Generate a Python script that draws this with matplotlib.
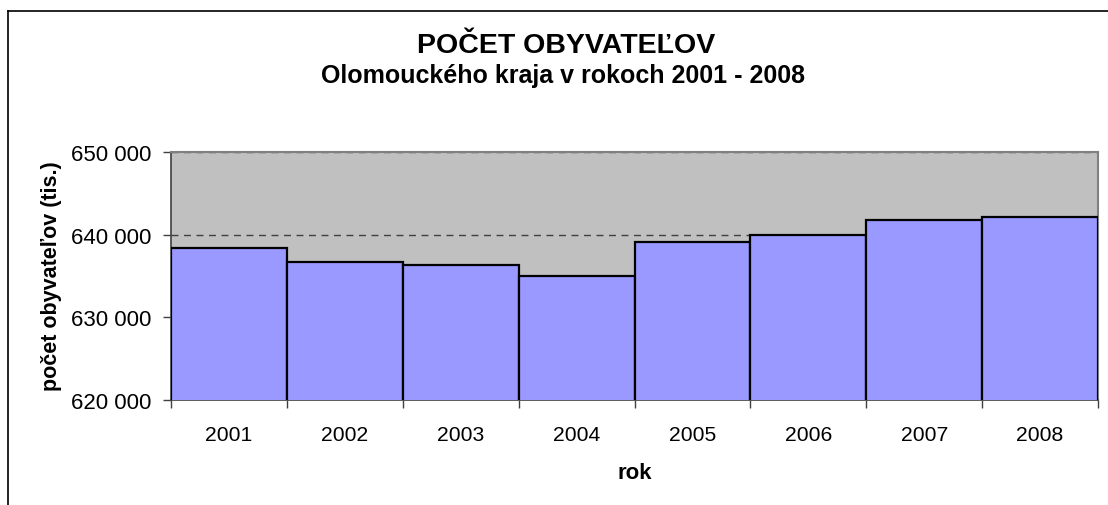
import numpy as np
import matplotlib.pyplot as plt
from matplotlib.lines import Line2D
from matplotlib.ticker import FuncFormatter

years = ['2001', '2002', '2003', '2004', '2005', '2006', '2007', '2008']
population = [638400, 636700, 636300, 635000, 639150, 639930, 641820, 642150]

title = 'POČET OBYVATEĽOV'
subtitle = 'Olomouckého kraja v rokoch 2001 - 2008'
ylabel = 'počet obyvateľov (tis.)'
xlabel = 'rok'


def main():
    plt.rcParams['font.family'] = ['Liberation Sans', 'DejaVu Sans']

    W, H = 1108, 506
    fig = plt.figure(figsize=(W / 100, H / 100), dpi=100)
    fig.patch.set_facecolor('white')

    # outer chart frame (right and bottom edges are cut off)
    fig.add_artist(Line2D([8 / W, 8 / W], [0, 1 - 12 / H], transform=fig.transFigure,
                          color='black', lw=1.2))
    fig.add_artist(Line2D([8 / W, 1], [1 - 12 / H, 1 - 12 / H], transform=fig.transFigure,
                          color='black', lw=1.2))

    left, right, top, bottom = 171, 1098, 153, 401
    ax = fig.add_axes([left / W, 1 - bottom / H, (right - left) / W, (bottom - top) / H])
    ax.set_facecolor('#C0C0C0')

    x = np.arange(len(years))
    ax.bar(x, population, width=1.0, color='#9999FF', edgecolor='black',
           linewidth=1.6, zorder=3)

    ax.set_xlim(-0.5, len(years) - 0.5)
    ax.set_ylim(620000, 650000)
    ax.set_yticks([620000, 630000, 640000, 650000])
    ax.yaxis.set_major_formatter(FuncFormatter(lambda v, p: f'{int(v):,}'.replace(',', ' ')))
    ax.yaxis.grid(True, linestyle=(0, (5, 4)), color='#404040', linewidth=1.0, zorder=1)
    ax.set_axisbelow(True)

    ax.set_xticks(np.arange(-0.5, len(years)))
    ax.set_xticklabels([])
    ax.set_xticks(x, minor=True)
    ax.set_xticklabels(years, minor=True)
    ax.tick_params(axis='x', which='major', length=6, width=1, color='#404040', direction='out')
    ax.tick_params(axis='x', which='minor', length=0, pad=18, labelsize=15.2)
    ax.tick_params(axis='y', length=6, width=1, color='#404040', direction='out',
                   labelsize=16, pad=8)

    for side in ['top', 'right']:
        ax.spines[side].set_color('#808080')
        ax.spines[side].set_linewidth(1.5)
    for side in ['left', 'bottom']:
        ax.spines[side].set_color('#404040')
        ax.spines[side].set_linewidth(1.2)

    ax.set_ylabel(ylabel, fontsize=15.5, fontweight='bold', va='center')
    ax.yaxis.set_label_coords((52 - left) / (right - left), (bottom - 276) / (bottom - top))
    ax.set_xlabel(xlabel, fontsize=16, fontweight='bold', va='center')
    ax.xaxis.set_label_coords((635 - left) / (right - left), (bottom - 474) / (bottom - top))

    fig.text(566 / W, 1 - 46 / H, title, ha='center', va='center',
             fontsize=20.5, fontweight='bold')
    fig.text(563 / W, 1 - 76 / H, subtitle, ha='center', va='center',
             fontsize=18, fontweight='bold')

    fig.savefig('out.png', dpi=100)


if __name__ == '__main__':
    main()
